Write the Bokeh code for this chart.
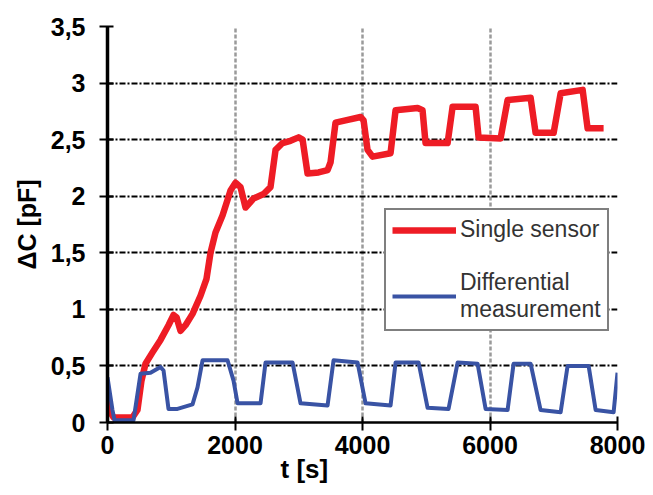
from bokeh.plotting import figure
from bokeh.models import (Range1d, FixedTicker, Grid, Legend, LegendItem, Title)
from bokeh.embed import file_html
from bokeh.resources import INLINE

# ---- data ----
single_t = [0, 47, 94, 392, 470, 533, 596, 706, 832, 957, 1036, 1083, 1145, 1224, 1334,
            1459, 1553, 1616, 1694, 1804, 1930, 2008, 2087, 2165, 2291, 2448, 2557, 2636,
            2746, 2871, 2997, 3060, 3138, 3311, 3452, 3499, 3577, 3734, 3970, 4017, 4079,
            4158, 4440, 4519, 4864, 4942, 4989, 5335, 5413, 5774, 5821, 6166, 6276, 6637,
            6715, 6998, 7108, 7453, 7531, 7782]
single_c = [0.27, 0.09, 0.045, 0.045, 0.11, 0.37, 0.52, 0.62, 0.73, 0.86, 0.95, 0.93, 0.81,
            0.86, 0.96, 1.12, 1.27, 1.50, 1.68, 1.83, 2.05, 2.12, 2.08, 1.90, 1.98, 2.02,
            2.08, 2.41, 2.47, 2.49, 2.52, 2.50, 2.20, 2.21, 2.23, 2.30, 2.65, 2.67, 2.70,
            2.67, 2.41, 2.35, 2.38, 2.76, 2.78, 2.76, 2.47, 2.47, 2.79, 2.79, 2.52, 2.51,
            2.85, 2.87, 2.56, 2.56, 2.91, 2.94, 2.60, 2.60]

diff_t = [0, 78, 110, 408, 518, 675, 832, 879, 957, 1098, 1334, 1412, 1491, 1883, 1977,
          2040, 2401, 2479, 2903, 3028, 3452, 3546, 3923, 4048, 4440, 4519, 4880, 5021,
          5350, 5492, 5805, 5931, 6276, 6370, 6637, 6794, 7108, 7217, 7547, 7657, 7939, 8000]
diff_c = [0.40, 0.11, 0.02, 0.02, 0.43, 0.44, 0.49, 0.46, 0.12, 0.12, 0.16, 0.31, 0.55,
          0.55, 0.37, 0.17, 0.17, 0.53, 0.53, 0.17, 0.15, 0.55, 0.53, 0.17, 0.15, 0.53,
          0.53, 0.13, 0.12, 0.53, 0.52, 0.12, 0.11, 0.52, 0.52, 0.11, 0.09, 0.50, 0.50,
          0.11, 0.09, 0.44]

x_ticks = [0, 2000, 4000, 6000, 8000]
x_tick_labels = ["0", "2000", "4000", "6000", "8000"]
y_ticks = [0, 0.5, 1, 1.5, 2, 2.5, 3, 3.5]
y_tick_labels = ["0", "0,5", "1", "1,5", "2", "2,5", "3", "3,5"]

series_names = ["Single sensor", "Differential\nmeasurement"]

FONT = "Liberation Sans"

p = figure(width=650, height=490, output_backend="svg", toolbar_location=None,
           x_range=Range1d(0, 8000), y_range=Range1d(0, 3.5),
           min_border_left=107, min_border_right=33, min_border_top=26,
           min_border_bottom=68)
p.outline_line_color = None
p.background_fill_color = "white"
p.border_fill_color = "white"

# grids
p.xgrid.visible = False
p.ygrid.visible = False
vgrid = Grid(dimension=0, ticker=FixedTicker(ticks=x_ticks[1:]),
             grid_line_color="#9a9a9a", grid_line_width=2.5, grid_line_dash="4 2")
hgrid = Grid(dimension=1, ticker=FixedTicker(ticks=y_ticks[1:-1]),
             grid_line_color="black", grid_line_width=2, grid_line_dash="6 2 2 2")
topgrid = Grid(dimension=1, ticker=FixedTicker(ticks=y_ticks[-1:]),
               grid_line_color="#9a9a9a", grid_line_width=2.5, grid_line_dash="4 2")
p.add_layout(vgrid)
p.add_layout(hgrid)
p.add_layout(topgrid)

# axes
p.xaxis.ticker = FixedTicker(ticks=x_ticks)
p.xaxis.major_label_overrides = dict(zip(x_ticks, x_tick_labels))
p.yaxis.ticker = FixedTicker(ticks=y_ticks)
p.yaxis.major_label_overrides = dict(zip(y_ticks, y_tick_labels))
for ax in (p.xaxis, p.yaxis):
    ax.axis_line_color = "black"
    ax.major_tick_line_color = "black"
    ax.major_tick_line_width = 2
    ax.major_tick_in = 6
    ax.major_tick_out = 8
    ax.minor_tick_line_color = None
    ax.major_label_text_font = FONT
    ax.major_label_text_font_style = "bold"
    ax.major_label_text_font_size = "25px"
    ax.major_label_text_color = "black"
p.xaxis.axis_line_width = 2.5
p.yaxis.axis_line_width = 3.5
p.xaxis.major_label_standoff = 5
p.yaxis.major_label_standoff = 14

p.yaxis.axis_label = "ΔC [pF]"
p.yaxis.axis_label_text_font = FONT
p.yaxis.axis_label_text_font_style = "bold"
p.yaxis.axis_label_text_font_size = "25px"
p.yaxis.axis_label_text_color = "black"
p.yaxis.axis_label_standoff = 7

xtitle = Title(text="t [s]", align="left", offset=173, standoff=-10,
               text_font=FONT, text_font_style="bold", text_font_size="26px",
               text_color="black")
p.add_layout(xtitle, "below")

# lines
r_single = p.line(single_t, single_c, line_color="#ee1c25", line_width=6.5,
                  line_join="round")
r_diff = p.line(diff_t, diff_c, line_color="#3953a4", line_width=4,
                line_join="round")

legend = Legend(items=[LegendItem(label=series_names[0], renderers=[r_single]),
                       LegendItem(label=series_names[1], renderers=[r_diff])],
                location=(277, 91), orientation="vertical",
                border_line_color="black", border_line_width=2,
                background_fill_color="white", background_fill_alpha=1,
                label_text_font=FONT, label_text_font_size="23px",
                label_text_color="#333333", label_text_line_height=1.1,
                glyph_width=64, glyph_height=20,
                label_standoff=4, padding=6, spacing=26, margin=0,
                label_height=24)
p.add_layout(legend)

open("out.html", "w").write(file_html(p, INLINE))
